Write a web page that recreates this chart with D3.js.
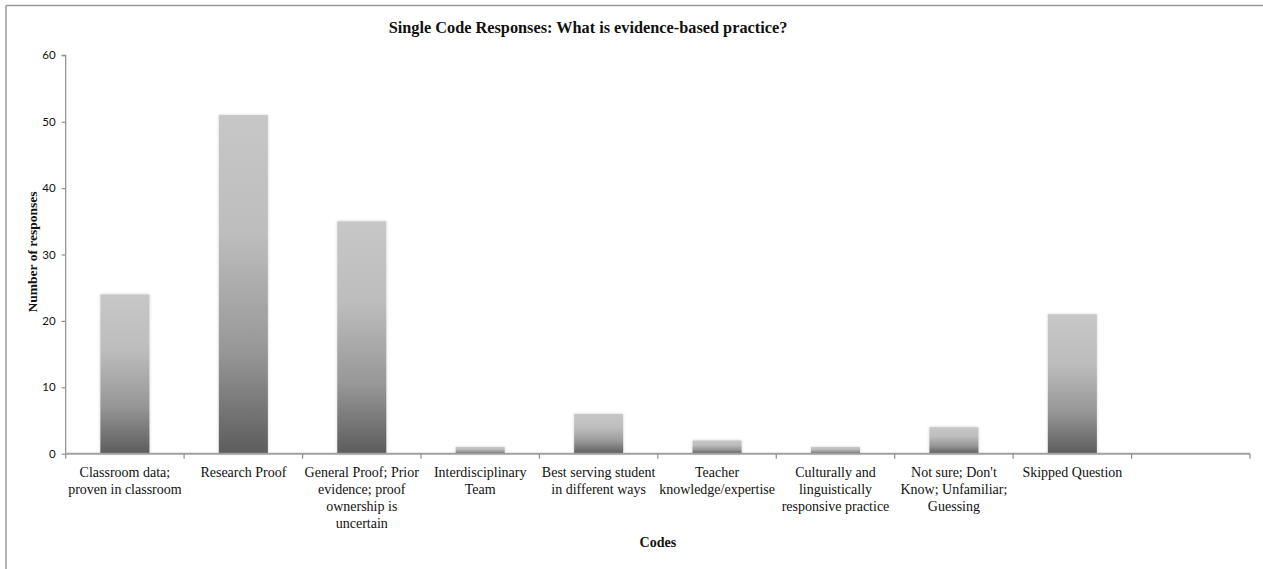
<!DOCTYPE html>
<html>
<head>
<meta charset="utf-8">
<script src="https://cdn.jsdelivr.net/npm/d3@7/dist/d3.min.js"></script>
<style>
  html, body { margin: 0; padding: 0; background: #fff; }
  svg { display: block; }
</style>
</head>
<body>
<div id="chart"></div>
<script>
// ---- data ----
const categories = [
  "Classroom data; proven in classroom",
  "Research Proof",
  "General Proof; Prior evidence; proof ownership is uncertain",
  "Interdisciplinary Team",
  "Best serving student in different ways",
  "Teacher knowledge/expertise",
  "Culturally  and linguistically responsive practice",
  "Not sure; Don't Know; Unfamiliar; Guessing",
  "Skipped Question",
  ""
];
const categoryLines = [
  ["Classroom data;", "proven in classroom"],
  ["Research Proof"],
  ["General Proof; Prior", "evidence; proof", "ownership is", "uncertain"],
  ["Interdisciplinary", "Team"],
  ["Best serving student", "in different ways"],
  ["Teacher", "knowledge/expertise"],
  ["Culturally  and", "linguistically", "responsive practice"],
  ["Not sure; Don't", "Know; Unfamiliar;", "Guessing"],
  ["Skipped Question"],
  []
];
const values = [24, 51, 35, 1, 6, 2, 1, 4, 21, null];
const yTicks = [0, 10, 20, 30, 40, 50, 60];
const title = "Single Code Responses: What is evidence-based practice?";
const xTitle = "Codes";
const yTitle = "Number of responses";

// ---- layout ----
const W = 1263, H = 569;
const plot = { left: 65.7, right: 1250, top: 55.3, bottom: 453.7 };

const svg = d3.select("#chart").append("svg")
  .attr("width", W).attr("height", H);

const defs = svg.append("defs");
const grad = defs.append("linearGradient")
  .attr("id", "barGrad").attr("x1", 0).attr("y1", 0).attr("x2", 0).attr("y2", 1);
grad.append("stop").attr("offset", "0%").attr("stop-color", "#c7c7c7");
grad.append("stop").attr("offset", "35%").attr("stop-color", "#bdbdbd");
grad.append("stop").attr("offset", "70%").attr("stop-color", "#979797");
grad.append("stop").attr("offset", "100%").attr("stop-color", "#5c5c5c");

const shadow = defs.append("filter").attr("id", "shadow")
  .attr("x", "-20%").attr("y", "-20%").attr("width", "140%").attr("height", "140%");
shadow.append("feDropShadow").attr("dx", 0).attr("dy", 0)
  .attr("stdDeviation", 1.6).attr("flood-color", "#000").attr("flood-opacity", 0.18);

// frame (top and left visible)
svg.append("line").attr("x1", 6).attr("y1", 5.5).attr("x2", W).attr("y2", 5.5)
  .attr("stroke", "#9a9a9a").attr("stroke-width", 1.5);
svg.append("line").attr("x1", 6).attr("y1", 5.5).attr("x2", 6).attr("y2", H)
  .attr("stroke", "#9a9a9a").attr("stroke-width", 1.5);

const x = d3.scaleBand().domain(d3.range(categories.length))
  .range([plot.left, plot.right]).paddingInner(0.586).paddingOuter(0.293);
const xOuter = d3.scaleBand().domain(d3.range(categories.length))
  .range([plot.left, plot.right]).padding(0);
const y = d3.scaleLinear().domain([0, 60]).range([plot.bottom, plot.top]);

// bars
svg.append("g").selectAll("rect")
  .data(values.map((v, i) => ({ v, i })).filter(d => d.v != null))
  .join("rect")
  .attr("x", d => x(d.i))
  .attr("width", x.bandwidth())
  .attr("y", d => y(d.v))
  .attr("height", d => y(0) - y(d.v))
  .attr("fill", "url(#barGrad)")
  .attr("filter", "url(#shadow)");

// y axis
const yAxis = d3.axisLeft(y).tickValues(yTicks).tickSize(4).tickPadding(6);
const gy = svg.append("g").attr("transform", `translate(${plot.left},0)`).call(yAxis);
gy.select(".domain").attr("stroke", "#8e8e8e").attr("stroke-width", 1.2)
  .attr("d", `M-4,${plot.top}H0V${plot.bottom}`);
gy.selectAll(".tick line").attr("stroke", "#8e8e8e").attr("stroke-width", 1.2);
gy.selectAll(".tick text")
  .attr("font-family", "Lato, 'Open Sans', sans-serif")
  .attr("font-size", 11.5).attr("fill", "#111");

// x axis
const boundaries = d3.range(categories.length + 1).map(i =>
  i < categories.length ? xOuter(i) : plot.right);
const gx = svg.append("g");
gx.append("line").attr("x1", plot.left).attr("x2", plot.right)
  .attr("y1", plot.bottom).attr("y2", plot.bottom)
  .attr("stroke", "#a0a0a0").attr("stroke-width", 2);
gx.selectAll("line.tk").data(boundaries).join("line").attr("class", "tk")
  .attr("x1", d => d).attr("x2", d => d)
  .attr("y1", plot.bottom).attr("y2", plot.bottom + 5)
  .attr("stroke", "#8e8e8e").attr("stroke-width", 1.2);

// category labels
const lbl = svg.append("g")
  .attr("font-family", "'Liberation Serif', 'Times New Roman', serif")
  .attr("font-size", 14).attr("fill", "#111").attr("text-anchor", "middle");
categoryLines.forEach((lines, i) => {
  const cx = xOuter(i) + xOuter.bandwidth() / 2;
  const t = lbl.append("text").attr("x", cx).attr("y", 477);
  lines.forEach((ln, j) => {
    t.append("tspan").attr("x", cx).attr("dy", j === 0 ? 0 : 17).text(ln);
  });
});

// titles
svg.append("text").attr("x", 588).attr("y", 33)
  .attr("text-anchor", "middle")
  .attr("font-family", "'Liberation Serif', 'Times New Roman', serif")
  .attr("font-weight", "bold").attr("font-size", 16.3).attr("fill", "#111")
  .text(title);

svg.append("text").attr("x", (plot.left + plot.right) / 2).attr("y", 547)
  .attr("text-anchor", "middle")
  .attr("font-family", "'Liberation Serif', 'Times New Roman', serif")
  .attr("font-weight", "bold").attr("font-size", 14).attr("fill", "#111")
  .text(xTitle);

svg.append("text")
  .attr("transform", `translate(37,252) rotate(-90)`)
  .attr("text-anchor", "middle")
  .attr("font-family", "'Liberation Serif', 'Times New Roman', serif")
  .attr("font-weight", "bold").attr("font-size", 13.5).attr("fill", "#111")
  .text(yTitle);
</script>
</body>
</html>
